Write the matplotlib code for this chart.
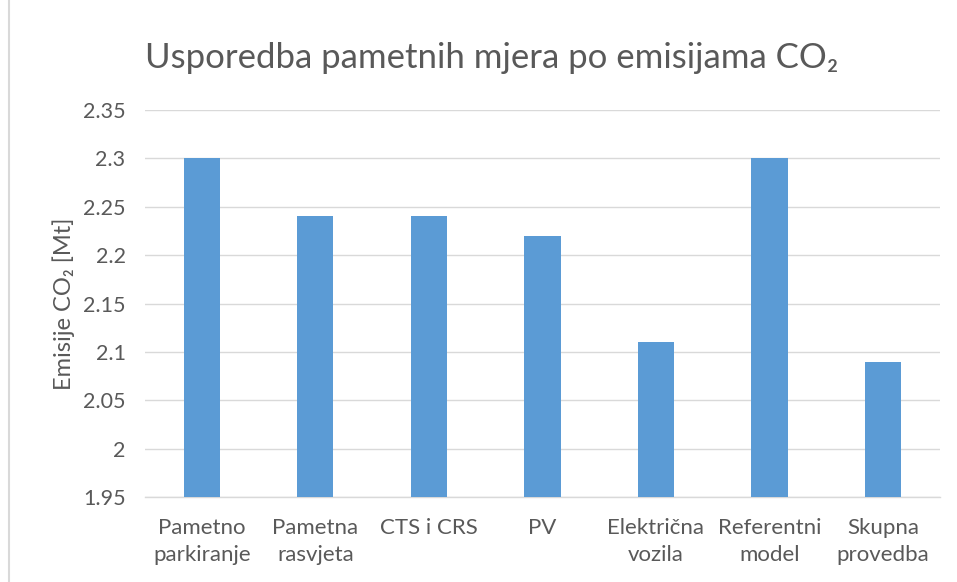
import matplotlib.pyplot as plt
from matplotlib.lines import Line2D

categories = ["Pametno\nparkiranje", "Pametna\nrasvjeta", "CTS i CRS", "PV",
              "Električna\nvozila", "Referentni\nmodel", "Skupna\nprovedba"]
emissions = [2.30, 2.24, 2.24, 2.22, 2.11, 2.30, 2.09]
yticks = [1.95, 2.0, 2.05, 2.1, 2.15, 2.2, 2.25, 2.3, 2.35]
ytick_labels = ["1.95", "2", "2.05", "2.1", "2.15", "2.2", "2.25", "2.3", "2.35"]

plt.rcParams['font.family'] = ['Lato', 'DejaVu Sans']
txt = '#595959'

fig = plt.figure(figsize=(9.57, 5.82), dpi=100)
ax = fig.add_axes([0.1515, 0.146, 0.8305, 0.665])

ax.bar(range(len(categories)), emissions, width=0.32, color='#5B9BD5', zorder=3)
ax.set_ylim(1.95, 2.35)
ax.set_xlim(-0.5, len(categories) - 0.5)
ax.set_yticks(yticks)
ax.set_yticklabels(ytick_labels)
ax.set_xticks(range(len(categories)))
ax.set_xticklabels(categories, linespacing=1.45)
ax.grid(axis='y', color='#D9D9D9', linewidth=1, zorder=0)
for s in ['top', 'right', 'left']:
    ax.spines[s].set_visible(False)
ax.spines['bottom'].set_color('#D9D9D9')
ax.spines['bottom'].set_linewidth(1)
ax.tick_params(axis='y', length=0, labelsize=15.5, colors=txt, pad=14)
ax.tick_params(axis='x', length=0, labelsize=16, colors=txt, pad=15)

ax.set_ylabel("Emisije CO₂ [Mt]", fontsize=17, color=txt, labelpad=6)
fig.text(0.152, 0.9, "Usporedba pametnih mjera po emisijama CO₂", fontsize=25,
         color=txt, ha='left', va='center')

fig.add_artist(Line2D([0.009, 0.009], [0, 1], color='#D9D9D9', linewidth=1.5,
                      transform=fig.transFigure))

fig.savefig('out.png', dpi=100)
